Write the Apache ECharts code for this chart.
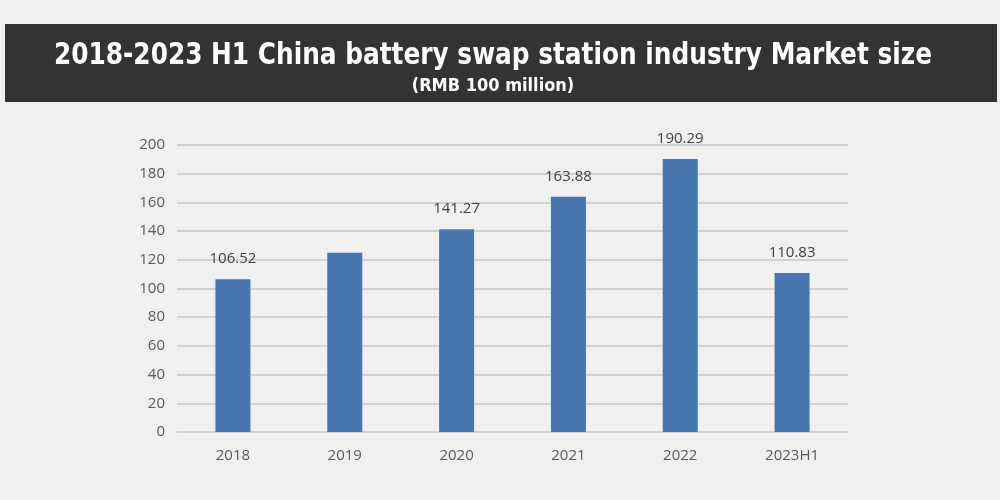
<!DOCTYPE html>
<html><head><meta charset="utf-8">
<script src="https://cdn.jsdelivr.net/npm/echarts@6/dist/echarts.min.js"></script>
<style>html,body{margin:0;padding:0;background:#f0f0f0}#c{width:1000px;height:500px}</style>
</head><body><div id="c"></div>
<script>
const categories = ['2018','2019','2020','2021','2022','2023H1'];
const values = [106.52, 125, 141.27, 163.88, 190.29, 110.83];
const labelShown = [true, false, true, true, true, true];
const titleText = '2018-2023 H1 China battery swap station industry Market size';
const subtitleText = '(RMB 100 million)';

const chart = echarts.init(document.getElementById('c'));
chart.setOption({
  backgroundColor: '#f0f0f0',
  graphic: [
    {type:'rect', left: 5, top: 24, shape:{width: 992, height: 78}, style:{fill:'#333333'}, z: 0},
    {type:'text', x: 493, y: 40, scaleX: 0.89, style:{text: titleText, textAlign:'center', fill:'#ffffff', font:'bold 31px "DejaVu Sans Condensed", "Open Sans"'}, z: 1},
    {type:'text', x: 493, y: 77, scaleX: 1.0, style:{text: subtitleText, textAlign:'center', fill:'#ffffff', font:'bold 18px "DejaVu Sans Condensed", "Open Sans"'}, z: 1}
  ],
  grid: {left: 177, right: 152, top: 145, bottom: 68},
  xAxis: {
    type:'category', data: categories,
    axisLine:{show:true, lineStyle:{color:'#d0d0d0', width:2}},
    axisTick:{show:false},
    axisLabel:{color:'#595959', fontSize:15, margin:16, fontFamily:'Open Sans'}
  },
  yAxis: {
    type:'value', min:0, max:200, interval:20,
    axisLine:{show:false}, axisTick:{show:false},
    splitLine:{lineStyle:{color:'#d0d0d0', width:2}},
    axisLabel:{color:'#595959', fontSize:15, margin:12, fontFamily:'Open Sans'}
  },
  series: [{
    type:'bar',
    data: values.map((v,i)=>({value:v, label:{show: labelShown[i]}})),
    barWidth: 35,
    itemStyle:{color:'#4a75ae'},
    label:{position:'top', distance:13, color:'#404040', fontSize:15, fontFamily:'Open Sans', formatter: p=>p.value.toFixed(2)}
  }]
});
</script></body></html>
